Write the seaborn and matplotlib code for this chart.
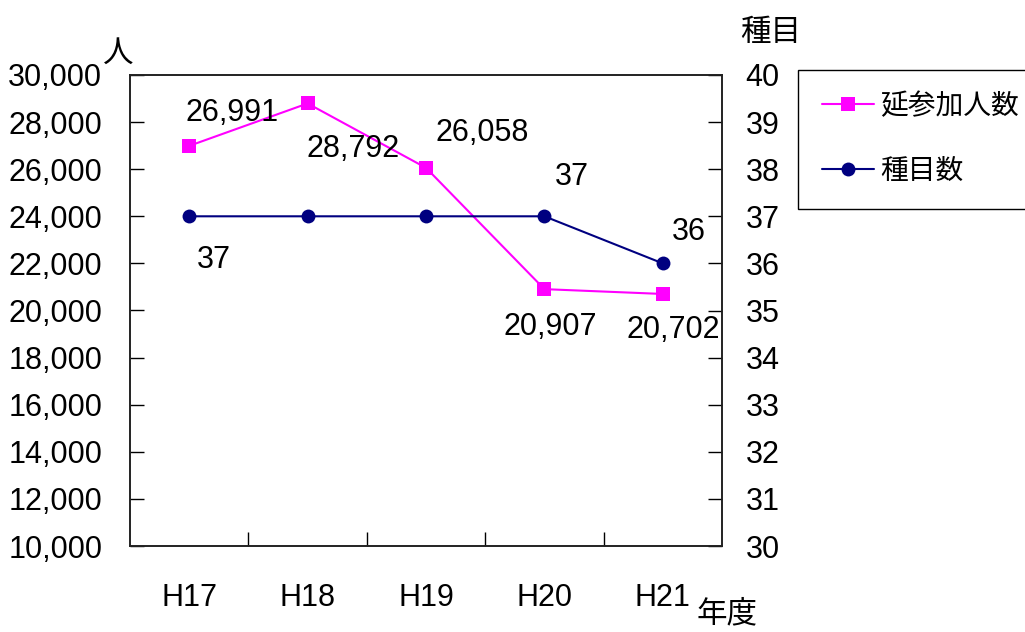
import matplotlib
matplotlib.use("Agg")
import matplotlib.pyplot as plt
import seaborn as sns
import pandas as pd

years = ["H17", "H18", "H19", "H20", "H21"]
participants = [26991, 28792, 26058, 20907, 20702]
events = [37, 37, 37, 37, 36]
left_ticks = list(range(10000, 30001, 2000))
right_ticks = list(range(30, 41))

sns.set_theme(style="white")
plt.rcParams["font.family"] = ["Liberation Sans", "Noto Sans CJK JP", "DejaVu Sans"]
plt.rcParams["text.color"] = "black"
plt.rcParams["xtick.color"] = "black"
plt.rcParams["ytick.color"] = "black"

df = pd.DataFrame({"year": years, "participants": participants, "events": events})
df["x"] = range(len(years))

W, H = 1025, 632
fig = plt.figure(figsize=(W / 100, H / 100), dpi=100)
ax = fig.add_axes([130 / W, 1 - 546 / H, 592 / W, 471 / H])
ax2 = ax.twinx()

pink = "#FF00FF"
navy = "#000080"
sns.lineplot(data=df, x="x", y="participants", ax=ax, color=pink, marker="s",
             markersize=10.5, markeredgewidth=0, linewidth=1.5, label="延参加人数",
             legend=False)
sns.lineplot(data=df, x="x", y="events", ax=ax2, color=navy, marker="o",
             markersize=10, markeredgewidth=0, linewidth=1.5, label="種目数",
             legend=False)

fs = 22
px = 0.72  # points per pixel at 100 dpi
ax.set_xlim(-0.5, len(years) - 0.5)
ax.set_ylim(10000, 30000)
ax2.set_ylim(30, 40)
ax.set_yticks(left_ticks)
ax.set_yticklabels([f"{v:,}" for v in left_ticks], fontsize=fs)
ax2.set_yticks(right_ticks)
ax2.set_yticklabels([str(v) for v in right_ticks], fontsize=fs)
ax.set_xticks([i + 0.5 for i in range(len(years) - 1)])
ax.set_xticklabels([])
ax.tick_params(axis="x", direction="in", length=10, width=1, color="black", bottom=True)
ax.tick_params(axis="y", direction="in", length=10, width=1, color="black", left=True, pad=20)
ax2.tick_params(axis="y", direction="in", length=10, width=1, color="black", right=True, pad=17)
for i, name in enumerate(years):
    ax.annotate(name, (i, 0), xycoords=("data", "axes fraction"),
                xytext=(0, -52 * px), textcoords="offset points",
                ha="center", va="center", fontsize=fs)
ax.set_xlabel("")
ax.set_ylabel("")
ax2.set_ylabel("")
for a in (ax, ax2):
    for s in a.spines.values():
        s.set_color("#222222")
        s.set_linewidth(1.2)
    a.grid(False)

# value labels next to the points (offsets in pixels)
p_off = [(43, -33), (45, 46), (56, -35), (6, 38), (10, 36)]
for i, (v, off) in enumerate(zip(participants, p_off)):
    ax.annotate(f"{v:,}", (i, v), xytext=(off[0] * px, -off[1] * px),
                textcoords="offset points", ha="center", va="center", fontsize=fs)
e_off = {0: (25, 44), 3: (27, -39), 4: (26, -31)}
for i, off in e_off.items():
    ax2.annotate(str(events[i]), (i, events[i]), xytext=(off[0] * px, -off[1] * px),
                 textcoords="offset points", ha="center", va="center", fontsize=fs)

fig.text(118 / W, 1 - 54 / H, "人", ha="center", va="center", fontsize=fs)
fig.text(771 / W, 1 - 33 / H, "種目", ha="center", va="center", fontsize=fs)
fig.text(727 / W, 1 - 614 / H, "年度", ha="center", va="center", fontsize=fs)

h1, l1 = ax.get_legend_handles_labels()
h2, l2 = ax2.get_legend_handles_labels()
leg = fig.legend(h1 + h2, l1 + l2, loc="upper left",
                 bbox_to_anchor=(798 / W, 1 - 70 / H), fontsize=20,
                 frameon=True, fancybox=False, shadow=False, borderpad=0.85,
                 borderaxespad=0, labelspacing=1.4, handlelength=1.9,
                 handletextpad=0.2)
leg.get_frame().set_edgecolor("black")
leg.get_frame().set_linewidth(1)
leg.get_frame().set_alpha(1)

fig.savefig("out.png", dpi=100, facecolor="white")
